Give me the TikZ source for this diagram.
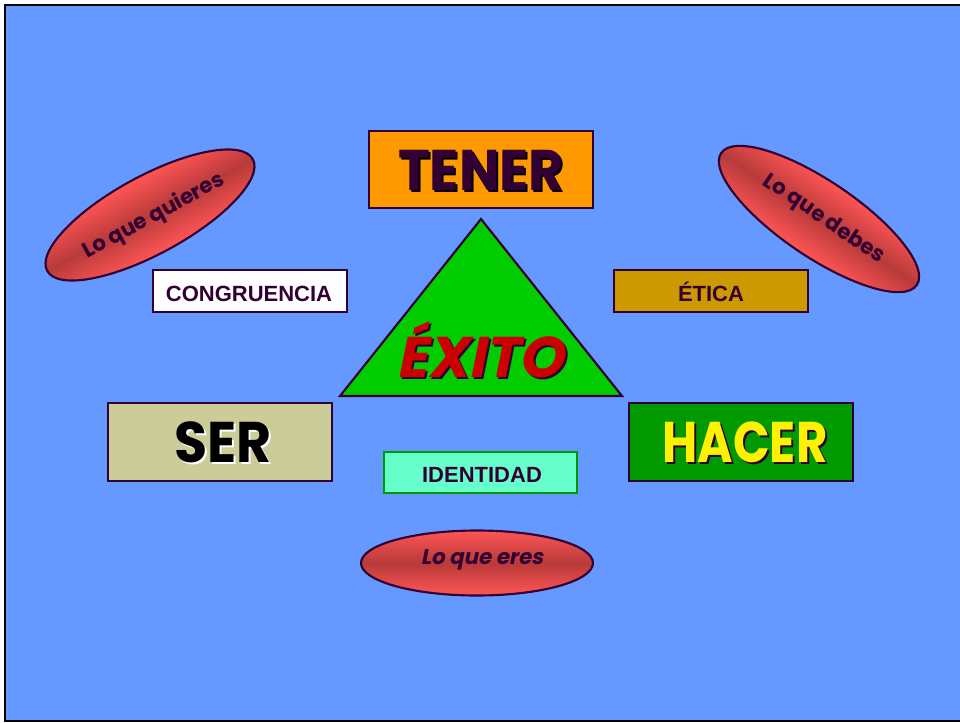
\documentclass[tikz,border=0pt]{standalone}
\usepackage{fontspec}
\setmainfont{Liberation Sans}
\newfontfamily\comic{Poppins}
\newfontfamily\comicsl{Poppins}[FakeSlant=0.2]
\usetikzlibrary{shapes.geometric}
\definecolor{bg}{HTML}{6699FF}
\definecolor{dk}{HTML}{330033}
\definecolor{tenerfill}{HTML}{FF9900}
\definecolor{trifill}{HTML}{00CC00}
\definecolor{eticafill}{HTML}{CC9900}
\definecolor{serfill}{HTML}{CCCC99}
\definecolor{hacerfill}{HTML}{009900}
\definecolor{idfill}{HTML}{66FFCC}
\definecolor{idline}{HTML}{009900}
\definecolor{exred}{HTML}{CC0000}
\definecolor{elL}{HTML}{FF5555}
\definecolor{elD}{HTML}{B83A3A}
\tikzset{
  box/.style={rectangle, draw=dk, line width=1.6pt, inner sep=0pt},
  bigbox/.style={box, minimum width=168pt, minimum height=58pt},
  smallbox/.style={box, minimum width=145.5pt, minimum height=31.5pt},
  bigtxt/.style={anchor=base, inner sep=0pt, font=\comic\bfseries\fontsize{43}{43}\selectfont},
  labtxt/.style={anchor=base, inner sep=0pt, text=dk, font=\bfseries\fontsize{16.5}{16.5}\selectfont},
  ell/.style={ellipse, draw=dk, line width=1.6pt, inner sep=0pt, top color=elL, bottom color=elL, middle color=elD},
  elltxt/.style={inner sep=0pt, text=dk, font=\comic\bfseries\fontsize{16}{16}\selectfont},
}
\begin{document}
\begin{tikzpicture}[x=0.75pt,y=-0.75pt]
\useasboundingbox (0,0) rectangle (960,722);
\draw[fill=bg, draw=black, line width=2.2pt] (5,5) rectangle (968,721);

% boxes
\node[bigbox, fill=tenerfill] (tener) at (481,169.5) {};
\node[smallbox, fill=white] (congr) at (250,291) {};
\node[smallbox, fill=eticafill] (etica) at (711,291) {};
\node[bigbox, fill=serfill] (ser) at (220,442) {};
\node[bigbox, fill=hacerfill] (hacer) at (741,442) {};
\node[smallbox, fill=idfill, draw=idline, minimum width=144.75pt, minimum height=30.75pt] (ident) at (480.5,472.5) {};

% triangle
\draw[fill=trifill, draw=dk, line width=1.6pt] (481,219) -- (340,396) -- (622,396) -- cycle;

% big texts with shadows
\node[bigtxt, text=black] (tenerS) at (483,192) {\scalebox{0.94}[1]{TENER}};
\node[bigtxt, text=dk] (tenerT) at (481,190) {\scalebox{0.94}[1]{TENER}};
\node[bigtxt, text=white] (serS) at (225,464) {\scalebox{0.94}[1]{SER}};
\node[bigtxt, text=black] (serT) at (223,462) {\scalebox{0.94}[1]{SER}};
\node[bigtxt, text=dk] (hacerS) at (747,464) {\scalebox{0.84}[1]{HACER}};
\node[bigtxt, text=yellow] (hacerT) at (745,462) {\scalebox{0.84}[1]{HACER}};
\node[bigtxt, font=\comicsl\bfseries\fontsize{43}{43}\selectfont, text=dk] (exitoS) at (482,379) {ÉXITO};
\node[bigtxt, font=\comicsl\bfseries\fontsize{43}{43}\selectfont, text=exred] (exitoT) at (480,377) {ÉXITO};

% labels
\node[labtxt] (congrT) at (249,301) {CONGRUENCIA};
\node[labtxt] (eticaT) at (711,301) {ÉTICA};
\node[labtxt] (identT) at (482,482) {IDENTIDAD};

% ellipses
\begin{scope}[transform canvas={shift={(150,215)},rotate=28.5}]
  \node[ell, minimum width=175.5pt, minimum height=58.5pt] (quieres) at (0,0) {};
  \node[elltxt] (quieresT) at (3,3) {Lo que quieres};
\end{scope}
\begin{scope}[transform canvas={shift={(819,219)},rotate=-34}]
  \node[ell, minimum width=177pt, minimum height=57pt] (debes) at (0,0) {};
  \node[elltxt] (debesT) at (4,-2) {Lo que debes};
\end{scope}
\node[ell, minimum width=174pt, minimum height=48.75pt] (eres) at (477,563) {};
\node[elltxt, font=\comicsl\bfseries\fontsize{16}{16}\selectfont] (eresT) at (482,560) {Lo que eres};
\end{tikzpicture}
\end{document}
